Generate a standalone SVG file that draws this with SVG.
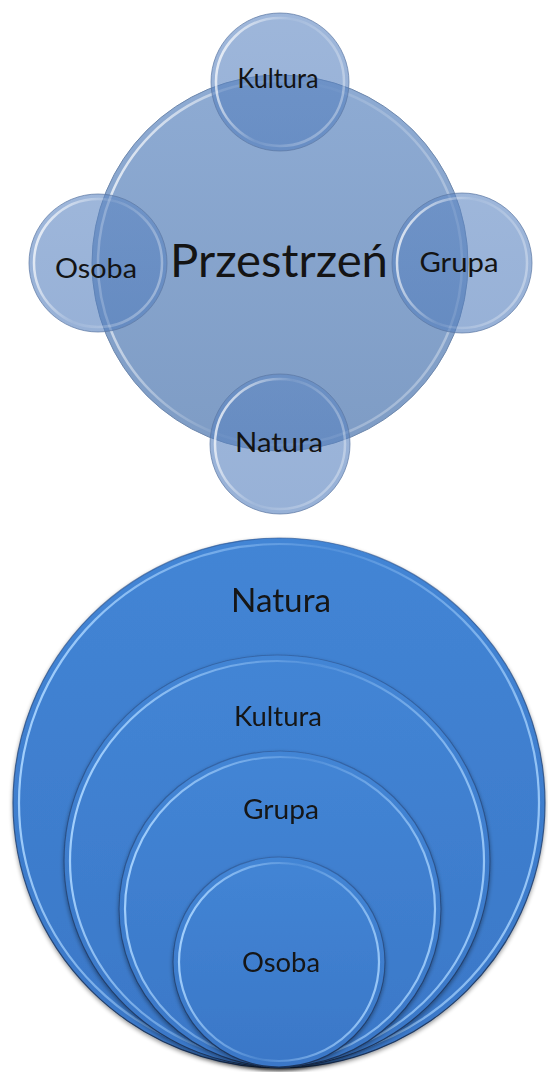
<svg xmlns="http://www.w3.org/2000/svg" width="548" height="1072" viewBox="0 0 548 1072">
  <defs>
    <linearGradient id="bigFill" x1="0" y1="0" x2="0" y2="1">
      <stop offset="0" stop-color="#8eabd3"/>
      <stop offset="1" stop-color="#7e9cc5"/>
    </linearGradient>
    <linearGradient id="satFill" x1="0" y1="0" x2="0" y2="1">
      <stop offset="0" stop-color="#5d86c2"/>
      <stop offset="1" stop-color="#527dbc"/>
    </linearGradient>
    <linearGradient id="ringTop" x1="0" y1="0.35" x2="1" y2="0.65">
      <stop offset="0" stop-color="#ffffff" stop-opacity="0.75"/>
      <stop offset="0.45" stop-color="#ffffff" stop-opacity="0.08"/>
      <stop offset="1" stop-color="#ffffff" stop-opacity="0.35"/>
    </linearGradient>
    <linearGradient id="blueFill" x1="0" y1="0" x2="0" y2="1">
      <stop offset="0" stop-color="#4385d5"/>
      <stop offset="1" stop-color="#3a77c7"/>
    </linearGradient>
    <linearGradient id="ringBlue" x1="0" y1="0.4" x2="1" y2="0.6">
      <stop offset="0" stop-color="#a8d4ff" stop-opacity="0.95"/>
      <stop offset="0.5" stop-color="#a8d4ff" stop-opacity="0.15"/>
      <stop offset="1" stop-color="#a8d4ff" stop-opacity="0.85"/>
    </linearGradient>
    <linearGradient id="edgeBlue" x1="0" y1="0" x2="0" y2="1">
      <stop offset="0" stop-color="#2d5590" stop-opacity="0.6"/>
      <stop offset="1" stop-color="#1c355c" stop-opacity="1"/>
    </linearGradient>
    <filter id="shadow" x="-10%" y="-10%" width="120%" height="120%">
      <feGaussianBlur in="SourceAlpha" stdDeviation="2"/>
      <feOffset dx="0" dy="2" result="b"/>
      <feComponentTransfer><feFuncA type="linear" slope="0.4"/></feComponentTransfer>
      <feMerge><feMergeNode/><feMergeNode in="SourceGraphic"/></feMerge>
    </filter>
  </defs>
  <style>
    .big { fill: url(#bigFill); stroke: #6e88ad; stroke-width: 1; }
    .sat { fill: url(#satFill); fill-opacity: 0.6; stroke: #5c78a3; stroke-opacity: 0.7; stroke-width: 1; }
    .ringT { fill: none; stroke: url(#ringTop); stroke-width: 2.5; }
    .blue { fill: url(#blueFill); stroke: url(#edgeBlue); stroke-width: 1.2; }
    .ringB { fill: none; stroke: url(#ringBlue); stroke-width: 2.2; }
    text { font-family: Lato, "Open Sans", "Liberation Sans", sans-serif; fill: #141414; text-anchor: middle; }
  </style>

  <g id="connectors"/>

  <!-- Top diagram -->
  <g id="przestrzen">
    <circle class="big" cx="280" cy="263" r="188"/>
    <circle class="ringT" cx="280" cy="263" r="182"/>
    <text x="279" y="277" font-size="47" textLength="218" lengthAdjust="spacingAndGlyphs">Przestrzeń</text>
  </g>
  <g id="kultura-top">
    <circle class="sat" cx="280" cy="82" r="69"/>
    <circle class="ringT" cx="280" cy="82" r="64"/>
    <text x="278" y="88" font-size="26" textLength="81" lengthAdjust="spacingAndGlyphs">Kultura</text>
  </g>
  <g id="grupa-top">
    <circle class="sat" cx="462" cy="263" r="70"/>
    <circle class="ringT" cx="462" cy="263" r="65"/>
    <text x="459" y="272" font-size="27" textLength="79" lengthAdjust="spacingAndGlyphs">Grupa</text>
  </g>
  <g id="natura-top">
    <circle class="sat" cx="280" cy="444" r="70"/>
    <circle class="ringT" cx="280" cy="444" r="65"/>
    <text x="279" y="452" font-size="27" textLength="88" lengthAdjust="spacingAndGlyphs">Natura</text>
  </g>
  <g id="osoba-top">
    <circle class="sat" cx="98" cy="263" r="69"/>
    <circle class="ringT" cx="98" cy="263" r="64"/>
    <text x="96" y="278" font-size="27" textLength="82" lengthAdjust="spacingAndGlyphs">Osoba</text>
  </g>

  <!-- Bottom diagram -->
  <g id="natura-bottom" filter="url(#shadow)">
    <ellipse class="blue" cx="279" cy="803" rx="266" ry="265"/>
    <ellipse class="ringB" cx="279" cy="803" rx="260" ry="259"/>
    <text x="281" y="612" font-size="32" textLength="100" lengthAdjust="spacingAndGlyphs">Natura</text>
  </g>
  <g id="kultura-bottom" filter="url(#shadow)">
    <ellipse class="blue" cx="277" cy="861" rx="213" ry="206"/>
    <ellipse class="ringB" cx="277" cy="861" rx="207" ry="200"/>
    <text x="278" y="726" font-size="26" textLength="88" lengthAdjust="spacingAndGlyphs">Kultura</text>
  </g>
  <g id="grupa-bottom" filter="url(#shadow)">
    <ellipse class="blue" cx="280" cy="909" rx="161" ry="158"/>
    <ellipse class="ringB" cx="280" cy="909" rx="155" ry="152"/>
    <text x="281" y="819" font-size="26" textLength="76" lengthAdjust="spacingAndGlyphs">Grupa</text>
  </g>
  <g id="osoba-bottom" filter="url(#shadow)">
    <ellipse class="blue" cx="279" cy="962" rx="106" ry="105"/>
    <ellipse class="ringB" cx="279" cy="962" rx="100" ry="99"/>
    <text x="281" y="972" font-size="26" textLength="78" lengthAdjust="spacingAndGlyphs">Osoba</text>
  </g>
</svg>
